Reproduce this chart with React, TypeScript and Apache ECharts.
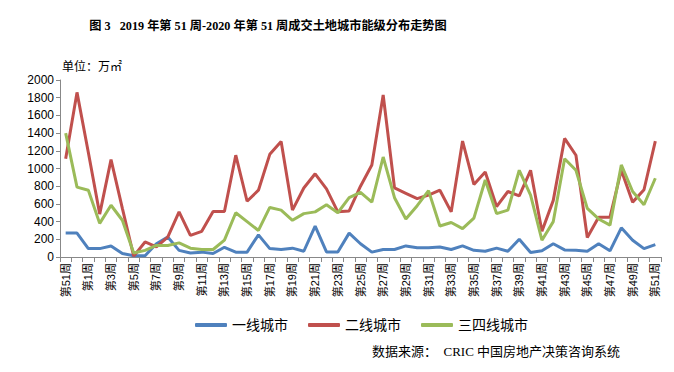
import React, { useEffect, useRef } from "react";
import * as echarts from "echarts";

const weeks: string[] = [
  "第51周", "第52周",
  ...Array.from({ length: 51 }, (_, i) => `第${i + 1}周`),
];

const tier1: number[] = [
  270, 270, 95, 95, 125, 40, 15, 15, 150, 225,
  75, 45, 55, 40, 110, 55, 55, 250, 95, 85,
  100, 65, 350, 57, 57, 270, 150, 55, 85, 85,
  125, 105, 105, 113, 85, 125, 75, 65, 100, 65,
  200, 50, 70, 150, 80, 75, 65, 150, 70, 330,
  190, 95, 140,
];

const tier2: number[] = [
  1110, 1860, 1180, 485, 1100, 550, 10, 170, 115, 225,
  510, 245, 290, 515, 515, 1150, 630, 755, 1160, 1305,
  530, 780, 940, 770, 510, 520, 800, 1040, 1830, 780,
  720, 660, 700, 755, 510, 1310, 820, 960, 570, 740,
  690, 980, 290, 640, 1340, 1150, 220, 450, 450, 980,
  620, 760, 1310,
];

const tier34: number[] = [
  1400, 790, 755, 380, 585, 415, 45, 75, 130, 130,
  160, 100, 85, 85, 190, 500, 400, 300, 560, 530,
  415, 490, 510, 590, 500, 670, 730, 620, 1130, 670,
  430, 580, 750, 350, 390, 320, 440, 870, 490, 530,
  980, 700, 190, 400, 1110, 980, 550, 430, 360, 1040,
  740, 590, 890,
];

const seriesNames = ["一线城市", "二线城市", "三四线城市"];
const colors = ["#4F81BD", "#C0504D", "#9BBB59"];

export default function App() {
  const ref = useRef<HTMLDivElement>(null);
  useEffect(() => {
    if (!ref.current) return;
    document.body.style.margin = "0";
    const chart = echarts.init(ref.current, null, { renderer: "svg" });
    const sans = "'Liberation Sans', 'Noto Sans CJK SC', sans-serif";
    const serif = "'Liberation Serif', 'Noto Sans CJK SC', serif";
    chart.setOption({
      animation: false,
      backgroundColor: "#ffffff",
      color: colors,
      title: {
        text: "图 3   2019 年第 51 周-2020 年第 51 周成交土地城市能级分布走势图",
        left: 263,
        textAlign: "center",
        top: 15,
        textStyle: { fontSize: 12.2, fontWeight: "bold", color: "#000", fontFamily: serif },
      },
      graphic: [
        {
          type: "text",
          left: 62,
          top: 61,
          style: { text: "单位：万㎡", fontSize: 12, fill: "#000", fontFamily: sans },
        },
        {
          type: "text",
          left: 372,
          top: 345,
          style: {
            text: "数据来源：  CRIC 中国房地产决策咨询系统",
            fontSize: 13,
            fill: "#000",
            fontFamily: serif,
          },
        },
      ],
      legend: {
        left: 190,
        top: 313,
        itemGap: 20,
        itemWidth: 32,
        itemHeight: 4,
        icon: "roundRect",
        data: seriesNames,
        textStyle: { fontSize: 14, color: "#000", fontFamily: sans },
      },
      grid: { left: 60, right: 13, top: 80, bottom: 115 },
      xAxis: {
        type: "category",
        data: weeks,
        boundaryGap: true,
        axisLine: { lineStyle: { color: "#888" } },
        axisTick: { show: true, interval: 0, length: 5, alignWithLabel: false, lineStyle: { color: "#888" } },
        axisLabel: {
          interval: 1,
          rotate: 90,
          fontSize: 11,
          color: "#000",
          margin: 6,
          fontFamily: sans,
        },
      },
      yAxis: {
        type: "value",
        min: 0,
        max: 2000,
        interval: 200,
        splitLine: { show: false },
        axisLine: { show: true, lineStyle: { color: "#888" } },
        axisTick: { show: true, length: 4, lineStyle: { color: "#888" } },
        axisLabel: {
          fontSize: 12,
          color: "#000",
          margin: 6,
          fontFamily: sans,
          formatter: (v: number) => String(v),
        },
      },
      series: [
        { name: seriesNames[0], type: "line", data: tier1, showSymbol: false, symbol: "none", lineStyle: { width: 3 } },
        { name: seriesNames[1], type: "line", data: tier2, showSymbol: false, symbol: "none", lineStyle: { width: 3 } },
        { name: seriesNames[2], type: "line", data: tier34, showSymbol: false, symbol: "none", lineStyle: { width: 3 } },
      ],
    });
    return () => chart.dispose();
  }, []);
  return <div ref={ref} style={{ width: 674, height: 372 }} />;
}
